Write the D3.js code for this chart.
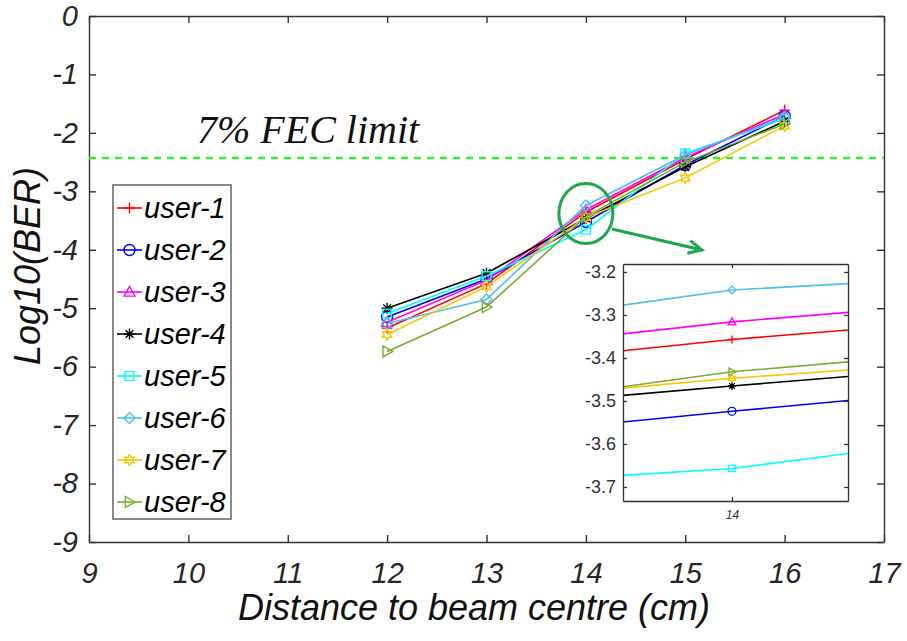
<!DOCTYPE html>
<html lang="en">
<head>
    <meta charset="utf-8">
    <title>BER vs distance to beam centre</title>
    <script src="https://d3js.org/d3.v7.min.js"></script>
    <style>
        body { margin: 0; background: #fff; }
        text { font-family: "Liberation Sans", Arial, sans-serif; }
    </style>
</head>
<body>
<script>
    // data
    var distances = [12, 13, 14, 15, 16];
    var users = ["user-1", "user-2", "user-3", "user-4", "user-5", "user-6", "user-7", "user-8"];
    var ber1 = [-5.34, -4.58, -3.357, -2.45, -1.61];
    var ber2 = [-5.15, -4.50, -3.524, -2.55, -1.71];
    var ber3 = [-5.24, -4.52, -3.316, -2.42, -1.68];
    var ber4 = [-5.00, -4.40, -3.465, -2.58, -1.80];
    var ber5 = [-5.09, -4.45, -3.657, -2.35, -1.76];
    var ber6 = [-5.26, -4.85, -3.242, -2.38, -1.73];
    var ber7 = [-5.45, -4.63, -3.447, -2.77, -1.88];
    var ber8 = [-5.74, -4.98, -3.432, -2.50, -1.85];
    var fecLimit = -2.43;

    // zoomed inset around distance 14
    var insetX = [13.98, 14, 14.0213];
    var inset1 = [-3.383, -3.357, -3.335];
    var inset2 = [-3.549, -3.524, -3.499];
    var inset3 = [-3.344, -3.316, -3.294];
    var inset4 = [-3.487, -3.465, -3.443];
    var inset5 = [-3.673, -3.657, -3.622];
    var inset6 = [-3.277, -3.242, -3.227];
    var inset7 = [-3.470, -3.447, -3.428];
    var inset8 = [-3.467, -3.432, -3.409];

    var xTicks = [9, 10, 11, 12, 13, 14, 15, 16, 17];
    var yTicks = [0, -1, -2, -3, -4, -5, -6, -7, -8, -9];
    var insetYTicks = [-3.2, -3.3, -3.4, -3.5, -3.6, -3.7];

    var colors = ["#ff0000", "#0000ff", "#ff00ff", "#000000", "#00ffff", "#4dbeee", "#f7c600", "#77ac30"];
    var markers = ["plus", "circle", "triUp", "star", "square", "diamond", "hexagram", "triRight"];
    var series = [ber1, ber2, ber3, ber4, ber5, ber6, ber7, ber8];
    var insetSeries = [inset1, inset2, inset3, inset4, inset5, inset6, inset7, inset8];

    var w = 907, h = 641;
    var svg = d3.select("body").append("svg").attr("width", w).attr("height", h);
    svg.append("rect").attr("width", w).attr("height", h).attr("fill", "#fff");

    var x = d3.scaleLinear().domain([9, 17]).range([89, 884]);
    var y = d3.scaleLinear().domain([-9, 0]).range([542, 16]);

    // plain hyphen like the original figure
    var intFmt = function (d) { return String(d); };
    var decFmt = function (d) { return d.toFixed(1); };

    function markerPath(type, s) {
        switch (type) {
            case "plus": return "M" + (-s) + ",0H" + s + "M0," + (-s) + "V" + s;
            case "circle": return "M" + s + ",0A" + s + "," + s + " 0 1 1 " + (-s) + ",0A" + s + "," + s + " 0 1 1 " + s + ",0Z";
            case "triUp": return "M0," + (-s) + "L" + s + "," + (s * 0.75) + "L" + (-s) + "," + (s * 0.75) + "Z";
            case "star":
                var d = s * 0.7;
                return "M" + (-s) + ",0H" + s + "M0," + (-s) + "V" + s + "M" + (-d) + "," + (-d) + "L" + d + "," + d + "M" + (-d) + "," + d + "L" + d + "," + (-d);
            case "square": var q = s * 0.8; return "M" + (-q) + "," + (-q) + "H" + q + "V" + q + "H" + (-q) + "Z";
            case "diamond": return "M0," + (-s) + "L" + s + ",0L0," + s + "L" + (-s) + ",0Z";
            case "hexagram":
                var pts = [];
                for (var i = 0; i < 12; i++) {
                    var r = i % 2 === 0 ? s : s * 0.55;
                    var a = -Math.PI / 2 + i * Math.PI / 6;
                    pts.push((r * Math.cos(a)).toFixed(2) + "," + (r * Math.sin(a)).toFixed(2));
                }
                return "M" + pts.join("L") + "Z";
            case "triRight": return "M" + s + ",0L" + (-s * 0.75) + "," + (-s) + "L" + (-s * 0.75) + "," + s + "Z";
        }
    }

    // axes (ticks point inward, box closed)
    var axisColor = "#333";
    function styleAxis(g) {
        g.selectAll("path").attr("stroke", axisColor).attr("stroke-width", 1.4);
        g.selectAll("line").attr("stroke", axisColor).attr("stroke-width", 1.4);
        g.selectAll("text").attr("fill", "#262626").style("font-style", "italic")
            .style("font-size", "29px").style("font-family", "'Liberation Sans', Arial, sans-serif");
    }
    svg.append("g").attr("transform", "translate(0,542)")
        .call(d3.axisBottom(x).tickValues(xTicks).tickSize(-7).tickSizeOuter(0).tickPadding(20).tickFormat(intFmt))
        .call(styleAxis);
    svg.append("g").attr("transform", "translate(89,0)")
        .call(d3.axisLeft(y).tickValues(yTicks).tickSize(-7).tickSizeOuter(0).tickPadding(11).tickFormat(intFmt))
        .call(styleAxis);
    svg.append("g").attr("transform", "translate(0,16)")
        .call(d3.axisTop(x).tickValues(xTicks).tickSize(-7).tickSizeOuter(0).tickFormat(""))
        .call(styleAxis);
    svg.append("g").attr("transform", "translate(884,0)")
        .call(d3.axisRight(y).tickValues(yTicks).tickSize(-7).tickSizeOuter(0).tickFormat(""))
        .call(styleAxis);

    // FEC limit
    svg.append("line").attr("x1", x(9)).attr("x2", x(17)).attr("y1", y(fecLimit)).attr("y2", y(fecLimit))
        .attr("stroke", "#33ee33").attr("stroke-width", 2.5).attr("stroke-dasharray", "7,6");
    svg.append("text").attr("x", 197).attr("y", 143)
        .style("font-family", "'Liberation Serif', 'Times New Roman', serif").style("font-style", "italic")
        .style("font-size", "40px").attr("fill", "#111").text("7% FEC limit");

    // series
    var line = d3.line().x(function (d) { return x(d[0]); }).y(function (d) { return y(d[1]); });
    series.forEach(function (vals, k) {
        var pts = distances.map(function (d, i) { return [d, vals[i]]; });
        var g = svg.append("g");
        g.append("path").attr("d", line(pts)).attr("fill", "none")
            .attr("stroke", colors[k]).attr("stroke-width", 1.6);
        g.selectAll("path.m").data(pts).enter().append("path").attr("class", "m")
            .attr("d", markerPath(markers[k], 5.5))
            .attr("transform", function (d) { return "translate(" + x(d[0]) + "," + y(d[1]) + ")"; })
            .attr("fill", "none").attr("stroke", colors[k]).attr("stroke-width", 1.4);
    });

    // legend
    var lg = svg.append("g");
    lg.append("rect").attr("x", 113).attr("y", 185).attr("width", 118).attr("height", 334)
        .attr("fill", "#fff").attr("stroke", "#888").attr("stroke-width", 2);
    users.forEach(function (u, k) {
        var ly = 208 + 42 * k;
        lg.append("line").attr("x1", 117).attr("x2", 142).attr("y1", ly).attr("y2", ly)
            .attr("stroke", colors[k]).attr("stroke-width", 1.6);
        lg.append("path").attr("d", markerPath(markers[k], 5.5)).attr("transform", "translate(129.5," + ly + ")")
            .attr("fill", "none").attr("stroke", colors[k]).attr("stroke-width", 1.4);
        lg.append("text").attr("x", 144).attr("y", ly + 10).style("font-size", "29px").style("font-style", "italic")
            .attr("fill", "#000").text(u);
    });

    // highlight ellipse + arrow
    var annColor = "#1fa64a";
    svg.append("ellipse").attr("cx", x(14)).attr("cy", y(-3.38)).attr("rx", 27).attr("ry", 30)
        .attr("fill", "none").attr("stroke", annColor).attr("stroke-width", 3);
    var ax1 = 612, ay1 = 229, ax2 = 702, ay2 = 250;
    svg.append("line").attr("x1", ax1).attr("y1", ay1).attr("x2", ax2).attr("y2", ay2)
        .attr("stroke", annColor).attr("stroke-width", 3);
    var ang = Math.atan2(ay2 - ay1, ax2 - ax1);
    var hl = 15;
    svg.append("path")
        .attr("d", "M" + (ax2 - hl * Math.cos(ang - 0.45)) + "," + (ay2 - hl * Math.sin(ang - 0.45)) +
            "L" + ax2 + "," + ay2 + "L" + (ax2 - hl * Math.cos(ang + 0.45)) + "," + (ay2 - hl * Math.sin(ang + 0.45)))
        .attr("fill", "none").attr("stroke", annColor).attr("stroke-width", 3);

    // inset
    var ix = d3.scaleLinear().domain([insetX[0], insetX[2]]).range([623, 848]);
    var iy = d3.scaleLinear().domain([-3.7326, -3.1814]).range([501, 264]);
    var ins = svg.append("g");
    ins.append("rect").attr("x", 623).attr("y", 264).attr("width", 225).attr("height", 237).attr("fill", "#fff");
    ins.append("clipPath").attr("id", "insetClip").append("rect")
        .attr("x", 623).attr("y", 264).attr("width", 225).attr("height", 237);
    var iline = d3.line().x(function (d) { return ix(d[0]); }).y(function (d) { return iy(d[1]); });
    var plot = ins.append("g").attr("clip-path", "url(#insetClip)");
    insetSeries.forEach(function (vals, k) {
        var pts = insetX.map(function (d, i) { return [d, vals[i]]; });
        plot.append("path").attr("d", iline(pts)).attr("fill", "none")
            .attr("stroke", colors[k]).attr("stroke-width", 1.6);
        plot.append("path").attr("d", markerPath(markers[k], 4))
            .attr("transform", "translate(" + ix(pts[1][0]) + "," + iy(pts[1][1]) + ")")
            .attr("fill", "none").attr("stroke", colors[k]).attr("stroke-width", 1.3);
    });
    function styleInset(g) {
        g.selectAll("path").attr("stroke", "#333").attr("stroke-width", 1.3);
        g.selectAll("line").attr("stroke", "#333").attr("stroke-width", 1.3);
        g.selectAll("text").attr("fill", "#333").style("font-size", "18px");
    }
    ins.append("g").attr("transform", "translate(623,0)")
        .call(d3.axisLeft(iy).tickValues(insetYTicks).tickSize(-4).tickSizeOuter(0).tickPadding(7).tickFormat(decFmt))
        .call(styleInset);
    ins.append("g").attr("transform", "translate(848,0)")
        .call(d3.axisRight(iy).tickValues(insetYTicks).tickSize(-4).tickSizeOuter(0).tickFormat(""))
        .call(styleInset);
    ins.append("g").attr("transform", "translate(0,501)")
        .call(d3.axisBottom(ix).tickValues([14]).tickSize(-4).tickSizeOuter(0).tickPadding(9).tickFormat(intFmt))
        .call(styleInset)
        .selectAll("text").style("font-size", "12px").style("font-style", "italic");
    ins.append("g").attr("transform", "translate(0,264)")
        .call(d3.axisTop(ix).tickValues([14]).tickSize(-4).tickSizeOuter(0).tickFormat(""))
        .call(styleInset);

    // axis titles
    svg.append("text").attr("x", 474).attr("y", 620).attr("text-anchor", "middle")
        .style("font-size", "36px").style("font-style", "italic").attr("fill", "#111")
        .text("Distance to beam centre (cm)");
    svg.append("text").attr("transform", "translate(40,266) rotate(-90)").attr("text-anchor", "middle")
        .style("font-size", "36px").style("font-style", "italic").attr("fill", "#111")
        .text("Log10(BER)");
</script>
</body>
</html>
